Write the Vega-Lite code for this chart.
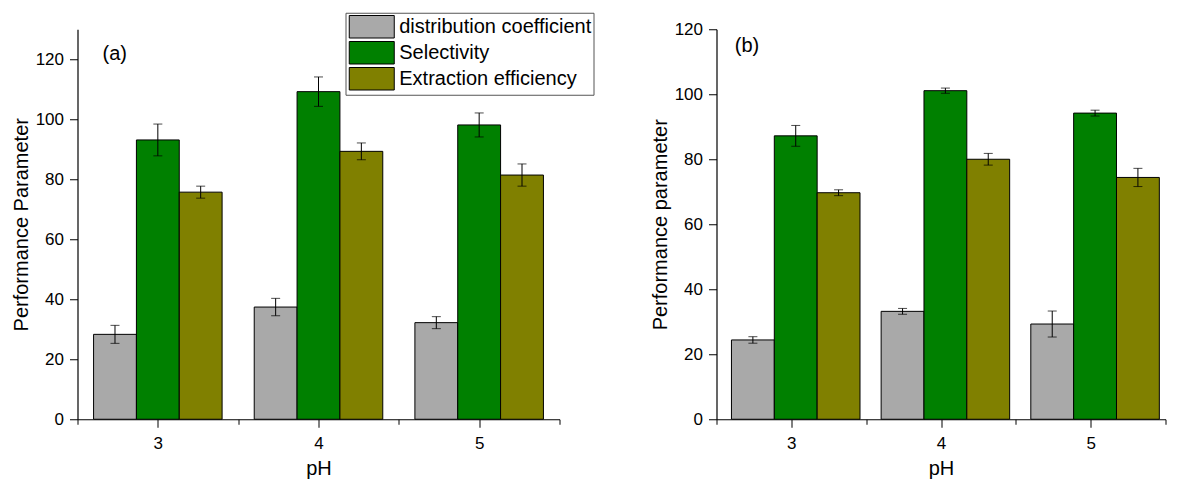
{
  "$schema": "https://vega.github.io/schema/vega-lite/v6.json",
  "padding": {"left": 10.5, "top": 12.25, "right": 5, "bottom": 2},
  "bounds": "flush",
  "spacing": 157,
  "config": {
    "view": {"stroke": null},
    "font": "Liberation Sans",
    "axis": {"domainColor": "black", "tickColor": "black", "labelColor": "black", "titleColor": "black", "labelFont": "Liberation Sans", "titleFont": "Liberation Sans", "grid": false, "labelFontSize": 17, "titleFontSize": 20, "titleFontWeight": "normal", "domainWidth": 1.2, "tickWidth": 1}
  },
  "datasets": {
    "a": [
      {"pH": 3, "series": "distribution coefficient", "value": 28.3, "err": 3.0},
      {"pH": 3, "series": "Selectivity", "value": 93.1, "err": 5.3},
      {"pH": 3, "series": "Extraction efficiency", "value": 75.7, "err": 2.0},
      {"pH": 4, "series": "distribution coefficient", "value": 37.4, "err": 2.9},
      {"pH": 4, "series": "Selectivity", "value": 109.2, "err": 4.9},
      {"pH": 4, "series": "Extraction efficiency", "value": 89.3, "err": 2.8},
      {"pH": 5, "series": "distribution coefficient", "value": 32.2, "err": 2.0},
      {"pH": 5, "series": "Selectivity", "value": 98.1, "err": 4.0},
      {"pH": 5, "series": "Extraction efficiency", "value": 81.4, "err": 3.7}
    ],
    "b": [
      {"pH": 3, "series": "distribution coefficient", "value": 24.4, "err": 1.0},
      {"pH": 3, "series": "Selectivity", "value": 87.2, "err": 3.2},
      {"pH": 3, "series": "Extraction efficiency", "value": 69.7, "err": 0.9},
      {"pH": 4, "series": "distribution coefficient", "value": 33.2, "err": 0.9},
      {"pH": 4, "series": "Selectivity", "value": 101.1, "err": 0.8},
      {"pH": 4, "series": "Extraction efficiency", "value": 80.0, "err": 1.8},
      {"pH": 5, "series": "distribution coefficient", "value": 29.3, "err": 4.0},
      {"pH": 5, "series": "Selectivity", "value": 94.2, "err": 0.9},
      {"pH": 5, "series": "Extraction efficiency", "value": 74.4, "err": 2.8}
    ],
    "labelA": [{"label": "(a)"}],
    "labelB": [{"label": "(b)"}]
  },
  "hconcat": [
    {
      "width": 482,
      "height": 390,
      "layer": [
        {
          "data": {"name": "a"},
          "layer": [
            {
              "mark": {"type": "bar", "stroke": "black", "strokeWidth": 1},
              "encoding": {
                "x": {"field": "pH", "type": "ordinal", "scale": {"paddingInner": 0.2, "paddingOuter": 0.1}, "axis": null},
                "xOffset": {"field": "series", "type": "nominal", "sort": ["distribution coefficient", "Selectivity", "Extraction efficiency"]},
                "y": {"field": "value", "type": "quantitative", "title": "Performance Parameter", "scale": {"domain": [0, 130], "nice": false},
                  "axis": {"values": [0, 10, 20, 30, 40, 50, 60, 70, 80, 90, 100, 110, 120, 130], "labelExpr": "datum.value % 20 === 0 ? datum.label : ''", "tickSize": {"condition": {"test": "datum.value % 20 !== 0", "value": 5}, "value": 8}, "labelPadding": 6, "titlePadding": 4}},
                "color": {"field": "series", "type": "nominal",
                  "scale": {"domain": ["distribution coefficient", "Selectivity", "Extraction efficiency"], "range": ["#A9A9A9", "#008000", "#808000"]},
                  "legend": {"orient": "none", "legendX": 268, "legendY": -16.5, "title": null, "symbolType": "M-2,-1H2V1H-2Z", "symbolSize": 506.25, "symbolOffset": 12.25, "symbolStrokeColor": "black", "symbolStrokeWidth": 1, "symbolOpacity": 1, "labelFontSize": 20, "labelFont": "Liberation Sans", "labelColor": "black", "labelOffset": 15.5, "rowPadding": -3, "padding": 2, "strokeColor": "#555555", "fillColor": "white", "labelLimit": 400}}
              }
            },
            {
              "mark": {"type": "errorbar", "color": "black", "ticks": {"size": 9, "color": "black", "thickness": 1}, "rule": {"strokeWidth": 1}},
              "encoding": {
                "x": {"field": "pH", "type": "ordinal"},
                "xOffset": {"field": "series", "type": "nominal", "sort": ["distribution coefficient", "Selectivity", "Extraction efficiency"]},
                "y": {"field": "value", "type": "quantitative", "title": "Performance Parameter"},
                "yError": {"field": "err"}
              }
            }
          ]
        },
        {
          "data": {"name": "labelA"},
          "mark": {"type": "text", "align": "left", "baseline": "alphabetic", "fontSize": 20, "fontWeight": "normal", "font": "Liberation Sans", "color": "black"},
          "encoding": {
            "x": {"datum": 2.656, "type": "quantitative", "scale": {"domain": [2.5, 5.5], "nice": false, "zero": false},
              "axis": {"orient": "bottom", "title": "pH", "values": [2.5, 3, 3.5, 4, 4.5, 5, 5.5], "labelExpr": "datum.value % 1 === 0 ? '' + datum.value : ''", "tickSize": {"condition": {"test": "datum.value % 1 !== 0", "value": 5}, "value": 8}, "labelPadding": 8, "titlePadding": 7.5}},
            "y": {"datum": 119.7, "type": "quantitative", "title": "Performance Parameter"},
            "text": {"field": "label"}
          }
        }
      ],
      "resolve": {"scale": {"x": "independent"}, "axis": {"x": "independent"}}
    },
    {
      "width": 449,
      "height": 390,
      "layer": [
        {
          "data": {"name": "b"},
          "layer": [
            {
              "mark": {"type": "bar", "stroke": "black", "strokeWidth": 1},
              "encoding": {
                "x": {"field": "pH", "type": "ordinal", "scale": {"paddingInner": 0.2, "paddingOuter": 0.1}, "axis": null},
                "xOffset": {"field": "series", "type": "nominal", "sort": ["distribution coefficient", "Selectivity", "Extraction efficiency"]},
                "y": {"field": "value", "type": "quantitative", "title": "Performance parameter", "scale": {"domain": [0, 120], "nice": false},
                  "axis": {"values": [0, 10, 20, 30, 40, 50, 60, 70, 80, 90, 100, 110, 120], "labelExpr": "datum.value % 20 === 0 ? datum.label : ''", "tickSize": {"condition": {"test": "datum.value % 20 !== 0", "value": 5}, "value": 8}, "labelPadding": 6, "titlePadding": 4}},
                "color": {"field": "series", "type": "nominal",
                  "scale": {"domain": ["distribution coefficient", "Selectivity", "Extraction efficiency"], "range": ["#A9A9A9", "#008000", "#808000"]},
                  "legend": null}
              }
            },
            {
              "mark": {"type": "errorbar", "color": "black", "ticks": {"size": 9, "color": "black", "thickness": 1}, "rule": {"strokeWidth": 1}},
              "encoding": {
                "x": {"field": "pH", "type": "ordinal"},
                "xOffset": {"field": "series", "type": "nominal", "sort": ["distribution coefficient", "Selectivity", "Extraction efficiency"]},
                "y": {"field": "value", "type": "quantitative", "title": "Performance parameter"},
                "yError": {"field": "err"}
              }
            }
          ]
        },
        {
          "data": {"name": "labelB"},
          "mark": {"type": "text", "align": "left", "baseline": "alphabetic", "fontSize": 20, "fontWeight": "normal", "font": "Liberation Sans", "color": "black"},
          "encoding": {
            "x": {"datum": 2.622, "type": "quantitative", "scale": {"domain": [2.5, 5.5], "nice": false, "zero": false},
              "axis": {"orient": "bottom", "title": "pH", "values": [2.5, 3, 3.5, 4, 4.5, 5, 5.5], "labelExpr": "datum.value % 1 === 0 ? '' + datum.value : ''", "tickSize": {"condition": {"test": "datum.value % 1 !== 0", "value": 5}, "value": 8}, "labelPadding": 8, "titlePadding": 7.5}},
            "y": {"datum": 112.9, "type": "quantitative", "title": "Performance parameter"},
            "text": {"field": "label"}
          }
        }
      ],
      "resolve": {"scale": {"x": "independent"}, "axis": {"x": "independent"}}
    }
  ],
  "resolve": {"scale": {"color": "independent"}}
}
